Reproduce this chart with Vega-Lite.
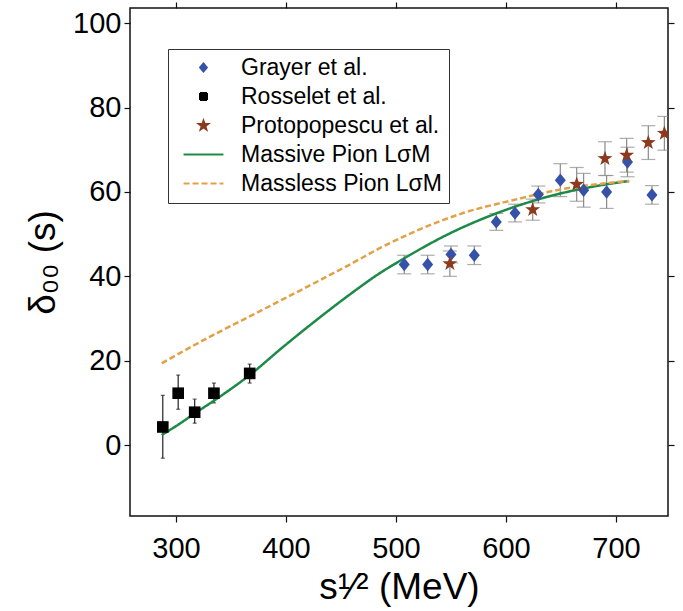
{
  "$schema": "https://vega.github.io/schema/vega-lite/v6.json",
  "width": 538,
  "height": 508,
  "autosize": "none",
  "padding": {"left": 130, "top": 8, "right": 15, "bottom": 95},
  "background": "white",
  "datasets": {
    "pts": [
      {"series": "Grayer et al.", "x": 507.5, "y": 42.8, "lo": 40.6, "hi": 45.0},
      {"series": "Grayer et al.", "x": 528.8, "y": 42.8, "lo": 40.6, "hi": 45.0},
      {"series": "Grayer et al.", "x": 550.0, "y": 45.2, "lo": 43.2, "hi": 47.2},
      {"series": "Grayer et al.", "x": 571.2, "y": 45.0, "lo": 42.8, "hi": 47.2},
      {"series": "Grayer et al.", "x": 591.2, "y": 52.9, "lo": 50.9, "hi": 54.9},
      {"series": "Grayer et al.", "x": 608.2, "y": 55.0, "lo": 52.9, "hi": 57.1},
      {"series": "Grayer et al.", "x": 629.4, "y": 59.4, "lo": 57.4, "hi": 61.4},
      {"series": "Grayer et al.", "x": 649.4, "y": 62.8, "lo": 58.9, "hi": 66.7},
      {"series": "Grayer et al.", "x": 670.6, "y": 60.4, "lo": 56.4, "hi": 64.4},
      {"series": "Grayer et al.", "x": 691.5, "y": 60.0, "lo": 56.1, "hi": 63.9},
      {"series": "Grayer et al.", "x": 710.5, "y": 67.1, "lo": 63.6, "hi": 70.6},
      {"series": "Grayer et al.", "x": 732.7, "y": 59.3, "lo": 57.1, "hi": 61.5},
      {"series": "Rosselet et al.", "x": 288.0, "y": 4.3, "lo": -3.1, "hi": 11.8},
      {"series": "Rosselet et al.", "x": 302.0, "y": 12.3, "lo": 8.5, "hi": 16.6},
      {"series": "Rosselet et al.", "x": 317.0, "y": 7.8, "lo": 5.2, "hi": 10.9},
      {"series": "Rosselet et al.", "x": 334.5, "y": 12.3, "lo": 10.0, "hi": 14.7},
      {"series": "Rosselet et al.", "x": 367.0, "y": 17.0, "lo": 14.7, "hi": 19.2},
      {"series": "Protopopescu et al.", "x": 549.0, "y": 43.0, "lo": 40.0, "hi": 46.0},
      {"series": "Protopopescu et al.", "x": 624.3, "y": 55.8, "lo": 53.3, "hi": 58.3},
      {"series": "Protopopescu et al.", "x": 664.3, "y": 61.8, "lo": 57.8, "hi": 65.8},
      {"series": "Protopopescu et al.", "x": 690.0, "y": 67.9, "lo": 63.9, "hi": 71.9},
      {"series": "Protopopescu et al.", "x": 709.7, "y": 68.7, "lo": 64.7, "hi": 72.7},
      {"series": "Protopopescu et al.", "x": 729.4, "y": 71.7, "lo": 67.7, "hi": 75.7},
      {"series": "Protopopescu et al.", "x": 744.0, "y": 73.9, "lo": 69.9, "hi": 77.9}
    ],
    "curves": [
      {"series": "Massive Pion LσM", "x": 287, "y": 2.4},
      {"series": "Massive Pion LσM", "x": 300, "y": 4.5},
      {"series": "Massive Pion LσM", "x": 317, "y": 7.5},
      {"series": "Massive Pion LσM", "x": 340, "y": 11.5},
      {"series": "Massive Pion LσM", "x": 367, "y": 16.6},
      {"series": "Massive Pion LσM", "x": 397.5, "y": 23.3},
      {"series": "Massive Pion LσM", "x": 428, "y": 29.7},
      {"series": "Massive Pion LσM", "x": 458, "y": 35.7},
      {"series": "Massive Pion LσM", "x": 485, "y": 40.7},
      {"series": "Massive Pion LσM", "x": 507, "y": 44.2},
      {"series": "Massive Pion LσM", "x": 546, "y": 49.8},
      {"series": "Massive Pion LσM", "x": 591, "y": 54.9},
      {"series": "Massive Pion LσM", "x": 637, "y": 58.8},
      {"series": "Massive Pion LσM", "x": 682, "y": 61.4},
      {"series": "Massive Pion LσM", "x": 712, "y": 62.6},
      {"series": "Massless Pion LσM", "x": 287, "y": 19.4},
      {"series": "Massless Pion LσM", "x": 331, "y": 25.7},
      {"series": "Massless Pion LσM", "x": 367, "y": 30.5},
      {"series": "Massless Pion LσM", "x": 397.5, "y": 34.6},
      {"series": "Massless Pion LσM", "x": 428, "y": 38.7},
      {"series": "Massless Pion LσM", "x": 458, "y": 42.8},
      {"series": "Massless Pion LσM", "x": 487, "y": 46.9},
      {"series": "Massless Pion LσM", "x": 516, "y": 50.5},
      {"series": "Massless Pion LσM", "x": 561, "y": 55.0},
      {"series": "Massless Pion LσM", "x": 607, "y": 58.1},
      {"series": "Massless Pion LσM", "x": 652, "y": 60.7},
      {"series": "Massless Pion LσM", "x": 712, "y": 62.6}
    ]
  },
  "resolve": {"axis": {"x": "independent", "y": "independent"}},
  "layer": [
    {
      "data": {"name": "pts"},
      "mark": {"type": "rule", "clip": true, "strokeWidth": 1.2},
      "encoding": {
        "x": {"field": "x", "type": "quantitative", "scale": {"domain": [258.2, 747.3], "nice": false, "zero": false},
          "axis": {"orient": "bottom", "values": [300, 400, 500, 600, 700], "title": "s¹⁄² (MeV)", "labelPadding": 12, "titlePadding": 6,
            "encode": {"ticks": {"update": {"y2": {"value": -6}}}}}},
        "y": {"field": "lo", "type": "quantitative", "scale": {"domain": [-16.8, 103.6], "nice": false, "zero": false},
          "axis": {"orient": "left", "values": [0, 20, 40, 60, 80, 100], "title": "δ₀₀ (s)", "labelPadding": 3, "titlePadding": 10,
            "encode": {"ticks": {"update": {"x2": {"value": 6}}}}}},
        "y2": {"field": "hi"},
        "color": {"condition": {"test": "datum.series === 'Rosselet et al.'", "value": "#222222"}, "value": "#8a8a8a"}
      }
    },
    {
      "data": {"name": "pts"},
      "mark": {"type": "tick", "orient": "horizontal", "clip": true, "thickness": 1.2},
      "encoding": {
        "x": {"field": "x", "type": "quantitative", "axis": null},
        "y": {"field": "lo", "type": "quantitative", "axis": null},
        "size": {"condition": {"test": "datum.series === 'Rosselet et al.'", "value": 4}, "value": 14},
        "color": {"condition": {"test": "datum.series === 'Rosselet et al.'", "value": "#222222"}, "value": "#8a8a8a"}
      }
    },
    {
      "data": {"name": "pts"},
      "mark": {"type": "tick", "orient": "horizontal", "clip": true, "thickness": 1.2},
      "encoding": {
        "x": {"field": "x", "type": "quantitative", "axis": null},
        "y": {"field": "hi", "type": "quantitative", "axis": null},
        "size": {"condition": {"test": "datum.series === 'Rosselet et al.'", "value": 4}, "value": 14},
        "color": {"condition": {"test": "datum.series === 'Rosselet et al.'", "value": "#222222"}, "value": "#8a8a8a"}
      }
    },
    {
      "data": {"name": "curves"},
      "mark": {"type": "line", "strokeWidth": 2.5, "clip": true, "interpolate": "monotone"},
      "encoding": {
        "x": {"field": "x", "type": "quantitative",
          "axis": {"orient": "top", "values": [300, 400, 500, 600, 700], "labels": false, "title": null,
            "encode": {"ticks": {"update": {"y2": {"value": 6}}}}}},
        "y": {"field": "y", "type": "quantitative",
          "axis": {"orient": "right", "values": [0, 20, 40, 60, 80, 100], "labels": false, "title": null,
            "encode": {"ticks": {"update": {"x2": {"value": -6}}}}}},
        "color": {"field": "series", "type": "nominal", "title": null,
          "scale": {"domain": ["Grayer et al.", "Rosselet et al.", "Protopopescu et al.", "Massive Pion LσM", "Massless Pion LσM"],
                    "range": ["#3552a8", "#000000", "#8b3a1e", "#1e8a48", "#e3a048"]},
          "legend": {
            "orient": "none", "legendX": 38, "legendY": 41,
            "fillColor": "white", "strokeColor": "#333333", "padding": 7,
            "labelFont": "Liberation Sans", "labelFontSize": 23, "labelColor": "black",
            "symbolSize": 49, "symbolOffset": 17, "labelOffset": 26, "rowPadding": 5,
            "labelLimit": 400,
            "encode": {"symbols": {"update": {
              "stroke": {"scale": "color", "field": "value"},
              "strokeWidth": {"value": 2},
              "strokeDash": {"scale": "strokeDash", "field": "value"},
              "opacity": {"value": 1}
            }}}
          }},
        "strokeDash": {"field": "series", "type": "nominal", "title": null,
          "scale": {"domain": ["Grayer et al.", "Rosselet et al.", "Protopopescu et al.", "Massive Pion LσM", "Massless Pion LσM"],
                    "range": [[1, 0], [1, 0], [1, 0], [1, 0], [6, 3]]},
          "legend": {
            "orient": "none", "legendX": 38, "legendY": 41,
            "fillColor": "white", "strokeColor": "#333333", "padding": 7,
            "labelFont": "Liberation Sans", "labelFontSize": 23, "labelColor": "black",
            "symbolSize": 49, "symbolOffset": 17, "labelOffset": 26, "rowPadding": 5,
            "labelLimit": 400,
            "encode": {"symbols": {"update": {
              "stroke": {"scale": "color", "field": "value"},
              "strokeWidth": {"value": 2},
              "strokeDash": {"scale": "strokeDash", "field": "value"},
              "opacity": {"value": 1}
            }}}
          }}
      }
    },
    {
      "data": {"name": "pts"},
      "mark": {"type": "point", "filled": true, "opacity": 1, "size": 135, "clip": true},
      "encoding": {
        "x": {"field": "x", "type": "quantitative", "axis": null},
        "y": {"field": "y", "type": "quantitative", "axis": null},
        "color": {"field": "series", "type": "nominal", "title": null,
          "legend": {
            "orient": "none", "legendX": 38, "legendY": 41,
            "fillColor": "white", "strokeColor": "#333333", "padding": 7,
            "labelFont": "Liberation Sans", "labelFontSize": 23, "labelColor": "black",
            "symbolSize": 49, "symbolOffset": 17, "labelOffset": 26, "rowPadding": 5,
            "labelLimit": 400,
            "encode": {"symbols": {"update": {
              "stroke": {"scale": "color", "field": "value"},
              "strokeWidth": {"value": 2},
              "strokeDash": {"scale": "strokeDash", "field": "value"},
              "opacity": {"value": 1}
            }}}
          }},
        "shape": {"field": "series", "type": "nominal", "title": null,
          "scale": {"domain": ["Grayer et al.", "Rosselet et al.", "Protopopescu et al.", "Massive Pion LσM", "Massless Pion LσM"],
                    "range": ["M0,-1.15L0.95,0L0,1.15L-0.95,0Z", "square", "M0,-1.35L0.317,-0.437L1.284,-0.417L0.513,0.167L0.794,1.092L0,0.54L-0.794,1.092L-0.513,0.167L-1.284,-0.417L-0.317,-0.437Z", "M-5.7,0L5.7,0", "M-5.7,0L5.7,0"]},
          "legend": {
            "orient": "none", "legendX": 38, "legendY": 41,
            "fillColor": "white", "strokeColor": "#333333", "padding": 7,
            "labelFont": "Liberation Sans", "labelFontSize": 23, "labelColor": "black",
            "symbolSize": 49, "symbolOffset": 17, "labelOffset": 26, "rowPadding": 5,
            "labelLimit": 400,
            "encode": {"symbols": {"update": {
              "stroke": {"scale": "color", "field": "value"},
              "strokeWidth": {"value": 2},
              "strokeDash": {"scale": "strokeDash", "field": "value"},
              "opacity": {"value": 1}
            }}}
          }}
      }
    }
  ],
  "config": {
    "view": {"stroke": "#111111", "strokeWidth": 1.5},
    "axis": {
      "grid": false, "domain": false, "tickColor": "#111111", "tickSize": 6, "tickWidth": 1.2,
      "labelFont": "Liberation Sans", "labelFontSize": 29, "labelColor": "black",
      "titleFont": "Liberation Sans", "titleFontSize": 37, "titleFontWeight": "normal", "titleColor": "black"
    }
  }
}
